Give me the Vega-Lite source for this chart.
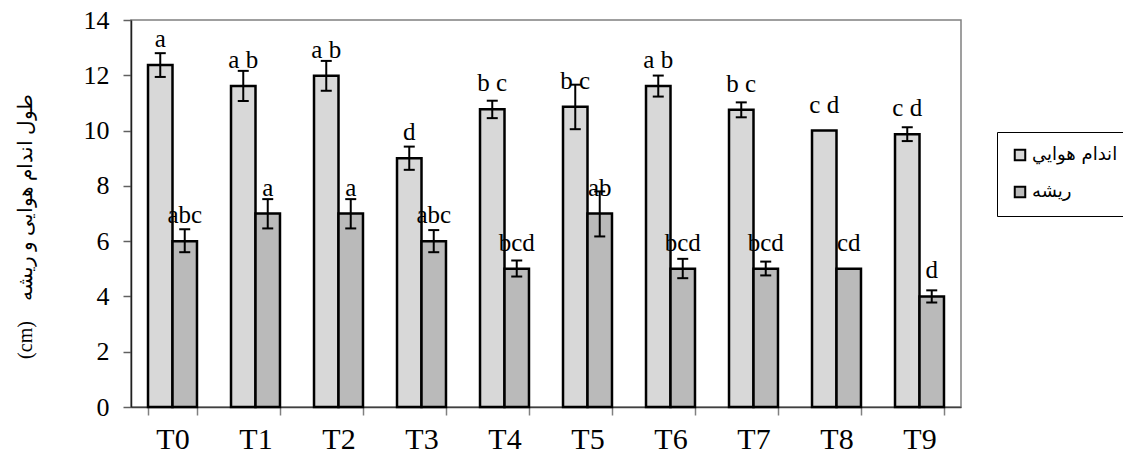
{
  "$schema": "https://vega.github.io/schema/vega-lite/v6.json",
  "width": 830,
  "height": 387,
  "autosize": "none",
  "padding": {"left": 131, "top": 20, "right": 162, "bottom": 59},
  "background": "white",
  "config": {
    "view": {"stroke": "#808080", "strokeWidth": 1.5},
    "font": "Liberation Serif",
    "text": {"font": "Liberation Serif"}
  },
  "data": {
    "values": [
      {"t": "T0", "s": "اندام هوايي", "v": 12.37, "lo": 11.94, "hi": 12.8, "lab": "a"},
      {"t": "T0", "s": "ريشه", "v": 6.0, "lo": 5.6, "hi": 6.43, "lab": "abc"},
      {"t": "T1", "s": "اندام هوايي", "v": 11.61, "lo": 11.07, "hi": 12.16, "lab": "a b"},
      {"t": "T1", "s": "ريشه", "v": 7.0, "lo": 6.46, "hi": 7.52, "lab": "a"},
      {"t": "T2", "s": "اندام هوايي", "v": 11.98, "lo": 11.44, "hi": 12.52, "lab": "a b"},
      {"t": "T2", "s": "ريشه", "v": 7.0, "lo": 6.46, "hi": 7.52, "lab": "a"},
      {"t": "T3", "s": "اندام هوايي", "v": 9.0, "lo": 8.58, "hi": 9.42, "lab": "d"},
      {"t": "T3", "s": "ريشه", "v": 6.0, "lo": 5.6, "hi": 6.4, "lab": "abc"},
      {"t": "T4", "s": "اندام هوايي", "v": 10.77, "lo": 10.45, "hi": 11.08, "lab": "b c"},
      {"t": "T4", "s": "ريشه", "v": 5.0, "lo": 4.72, "hi": 5.3, "lab": "bcd"},
      {"t": "T5", "s": "اندام هوايي", "v": 10.86, "lo": 10.05, "hi": 11.66, "lab": "b c"},
      {"t": "T5", "s": "ريشه", "v": 7.0, "lo": 6.17, "hi": 7.8, "lab": "ab"},
      {"t": "T6", "s": "اندام هوايي", "v": 11.61, "lo": 11.23, "hi": 11.99, "lab": "a b"},
      {"t": "T6", "s": "ريشه", "v": 5.0, "lo": 4.66, "hi": 5.36, "lab": "bcd"},
      {"t": "T7", "s": "اندام هوايي", "v": 10.75, "lo": 10.48, "hi": 11.02, "lab": "b c"},
      {"t": "T7", "s": "ريشه", "v": 5.0, "lo": 4.76, "hi": 5.26, "lab": "bcd"},
      {"t": "T8", "s": "اندام هوايي", "v": 10.0, "lo": null, "hi": null, "lab": "c d"},
      {"t": "T8", "s": "ريشه", "v": 5.0, "lo": null, "hi": null, "lab": "cd"},
      {"t": "T9", "s": "اندام هوايي", "v": 9.87, "lo": 9.62, "hi": 10.12, "lab": "c d"},
      {"t": "T9", "s": "ريشه", "v": 4.0, "lo": 3.78, "hi": 4.22, "lab": "d"}
    ]
  },
  "encoding": {
    "x": {
      "field": "t",
      "type": "nominal",
      "sort": null,
      "scale": {"paddingInner": 0.41, "paddingOuter": 0.205},
      "axis": {
        "title": null,
        "labelAngle": 0,
        "labelFontSize": 30,
        "labelFont": "Liberation Serif",
        "labelColor": "black",
        "labelPadding": 9,
        "tickBand": "extent",
        "tickSize": 8,
        "tickColor": "#808080",
        "tickWidth": 1.5,
        "domainColor": "#404040",
        "domainWidth": 1.5
      }
    },
    "xOffset": {
      "field": "s",
      "type": "nominal",
      "sort": ["اندام هوايي", "ريشه"],
      "scale": {"paddingInner": 0, "paddingOuter": 0}
    }
  },
  "layer": [
    {
      "mark": {"type": "bar", "stroke": "black", "strokeWidth": 2.5},
      "encoding": {
        "y": {
          "field": "v",
          "type": "quantitative",
          "scale": {"domain": [0, 14], "nice": false},
          "axis": {
            "values": [0, 2, 4, 6, 8, 10, 12, 14],
            "grid": false,
            "labelFontSize": 26,
            "labelFont": "Liberation Serif",
            "labelColor": "black",
            "labelPadding": 14,
            "tickSize": 8,
            "tickColor": "#606060",
            "tickWidth": 1.5,
            "domainColor": "#202020",
            "domainWidth": 1.5,
            "title": "(cm)\u00a0\u00a0\u00a0 طول اندام هوایی و ریشه",
            "titleFont": "Liberation Serif",
            "titleFontSize": 20,
            "titleFontWeight": "normal",
            "titleColor": "black",
            "titleX": -106,
            "titleY": 206,
            "titleAngle": 270,
            "titleAlign": "center",
            "titleBaseline": "middle"
          }
        },
        "fill": {
          "field": "s",
          "type": "nominal",
          "sort": ["اندام هوايي", "ريشه"],
          "scale": {"range": ["#d8d8d8", "#bababa"]},
          "legend": {
            "orient": "none",
            "legendX": 866,
            "legendY": 112,
            "title": null,
            "fillColor": "white",
            "strokeColor": "black",
            "padding": 14,
            "labelFont": "DejaVu Sans",
            "labelFontSize": 18,
            "labelColor": "black",
            "symbolType": "square",
            "symbolSize": 110,
            "symbolStrokeColor": "black",
            "symbolStrokeWidth": 2,
            "symbolOpacity": 1,
            "rowPadding": 17,
            "labelOffset": 3
          }
        }
      }
    },
    {
      "mark": {"type": "rule", "strokeWidth": 2, "color": "black"},
      "encoding": {
        "y": {"field": "lo", "type": "quantitative"},
        "y2": {"field": "hi"}
      }
    },
    {
      "mark": {"type": "tick", "orient": "horizontal", "size": 11, "thickness": 2, "color": "black", "opacity": 1},
      "encoding": {"y": {"field": "lo", "type": "quantitative"}}
    },
    {
      "mark": {"type": "tick", "orient": "horizontal", "size": 11, "thickness": 2, "color": "black", "opacity": 1},
      "encoding": {"y": {"field": "hi", "type": "quantitative"}}
    },
    {
      "mark": {"type": "text", "fontSize": 25, "dy": -18, "baseline": "alphabetic", "color": "black", "font": "Liberation Serif"},
      "encoding": {
        "y": {"field": "v", "type": "quantitative"},
        "text": {"field": "lab"}
      }
    }
  ]
}
